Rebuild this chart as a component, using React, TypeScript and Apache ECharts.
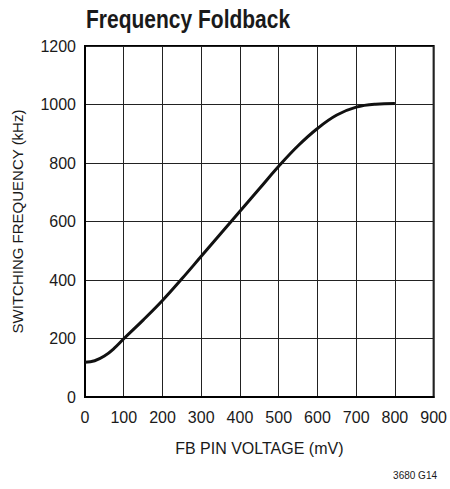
import React, { useEffect, useRef } from "react";
import * as echarts from "echarts";

const FONT = "'Liberation Sans', 'Arial', sans-serif";

const titleText = "Frequency Foldback";
const xAxisName = "FB PIN VOLTAGE (mV)";
const yAxisName = "SWITCHING FREQUENCY (kHz)";
const footnote = "3680 G14";

const fbVoltage = [0, 25, 50, 75, 100, 150, 200, 250, 300, 350, 400, 450, 500, 550, 600, 650, 700, 750, 800];
const switchingFreq = [119, 124, 140, 166, 199, 263, 330, 404, 481, 558, 635, 712, 789, 859, 918, 964, 991, 1001, 1003];

export default function App() {
  const ref = useRef<HTMLDivElement>(null);
  useEffect(() => {
    if (!ref.current) return;
    const chart = echarts.init(ref.current, undefined, { renderer: "svg" });
    const data = fbVoltage.map((v, i) => [v, switchingFreq[i]]);
    chart.setOption({
      animation: false,
      backgroundColor: "#fff",
      textStyle: { fontFamily: FONT },
      grid: {
        left: 85,
        right: 13,
        top: 46,
        bottom: 92,
        show: true,
        borderColor: "#000",
        borderWidth: 2,
      },
      xAxis: {
        type: "value",
        min: 0,
        max: 900,
        interval: 100,
        name: xAxisName,
        nameLocation: "middle",
        nameGap: 43,
        nameTextStyle: { fontFamily: FONT, fontSize: 16, color: "#1a1a1a" },
        axisLine: { show: true, lineStyle: { color: "#000", width: 2 } },
        axisTick: { show: false },
        axisLabel: {
          fontFamily: FONT,
          fontSize: 16,
          color: "#1a1a1a",
          margin: 12,
          formatter: (v: number) => String(v),
        },
        splitLine: { show: true, lineStyle: { color: "#222", width: 1 } },
      },
      yAxis: {
        type: "value",
        min: 0,
        max: 1200,
        interval: 200,
        name: yAxisName,
        nameLocation: "middle",
        nameGap: 60,
        nameTextStyle: { fontFamily: FONT, fontSize: 15, color: "#1a1a1a" },
        axisLine: { show: true, lineStyle: { color: "#000", width: 2 } },
        axisTick: { show: false },
        axisLabel: {
          fontFamily: FONT,
          fontSize: 16,
          color: "#1a1a1a",
          margin: 9,
          formatter: (v: number) => String(v),
        },
        splitLine: { show: true, lineStyle: { color: "#222", width: 1 } },
      },
      graphic: [
        {
          type: "text",
          x: 86,
          y: 19,
          scaleX: 0.84,
          style: {
            text: titleText,
            fontFamily: FONT,
            fontSize: 25,
            fontWeight: "bold",
            fill: "#1a1a1a",
            verticalAlign: "middle",
          },
        },
        {
          type: "text",
          right: 13,
          top: 470,
          style: { text: footnote, fontFamily: FONT, fontSize: 10, fill: "#1a1a1a" },
        },
      ],
      series: [
        {
          type: "line",
          data,
          smooth: 0.4,
          showSymbol: false,
          lineStyle: { color: "#111", width: 3 },
        },
      ],
    });
    return () => chart.dispose();
  }, []);
  return (
    <div
      ref={ref}
      style={{ position: "fixed", left: 0, top: 0, width: 450, height: 489 }}
    />
  );
}
